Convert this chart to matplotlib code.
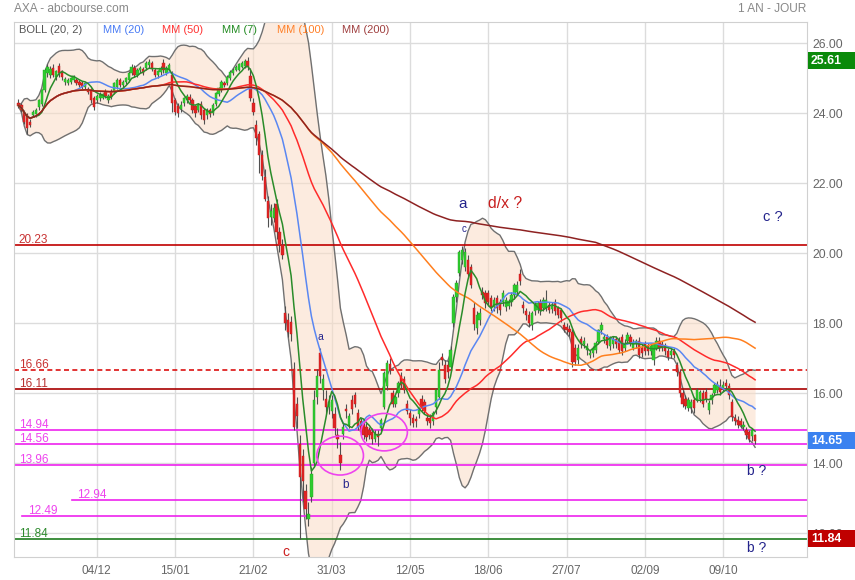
import matplotlib
matplotlib.use('Agg')
import matplotlib.pyplot as plt
from matplotlib.patches import Ellipse, Rectangle
import numpy as np
import pandas as pd

plt.rcParams['font.family'] = ['Liberation Sans', 'DejaVu Sans']

# daily candles, AXA, one year
opens = [
    24.30, 24.23, 24.04, 23.95, 23.76, 23.95, 23.98, 24.19, 24.28, 24.67,
    25.14, 25.10, 25.30, 25.05, 25.35, 25.20, 24.90, 24.86, 24.90, 24.95,
    24.95, 24.90, 24.86, 24.76, 24.70, 24.67, 24.43, 24.38, 24.43, 24.45,
    24.62, 24.38, 24.65, 24.62, 24.76, 24.95, 24.81, 24.90, 24.95, 25.14,
    25.30, 25.10, 25.24, 25.28, 25.30, 25.38, 25.43, 25.24, 25.10, 25.18,
    25.45, 25.14, 25.24, 25.10, 24.38, 24.20, 24.12, 24.30, 24.38, 24.48,
    24.38, 24.20, 24.10, 24.28, 24.09, 23.95, 24.10, 24.00, 24.28, 24.55,
    24.67, 24.88, 24.86, 25.00, 25.14, 25.24, 25.24, 25.33, 25.35, 25.50,
    25.08, 24.30, 23.66, 23.40, 22.80, 22.19, 21.50, 21.05, 21.00, 21.40,
    20.60, 20.25, 18.30, 18.10, 18.05, 16.70, 15.70, 14.55, 14.20, 13.20,
    12.40, 13.05, 14.00, 15.90, 17.15, 16.10, 15.85, 15.60, 15.50, 15.40,
    14.80, 14.25, 14.85, 15.55, 15.10, 15.80, 15.95, 15.43, 15.20, 15.10,
    15.05, 14.95, 14.90, 14.70, 14.85, 15.00, 15.60, 16.20, 16.85, 16.00,
    15.70, 16.00, 16.50, 16.40, 15.70, 15.45, 15.30, 15.28, 15.40, 15.85,
    15.75, 15.30, 15.30, 15.20, 15.60, 15.90, 17.05, 16.80, 16.80, 16.75,
    18.00, 18.76, 19.45, 19.80, 19.60, 19.80, 19.60, 18.45, 17.86, 18.10,
    18.90, 18.86, 18.86, 18.72, 18.48, 18.72, 18.62, 18.62, 18.48, 18.50,
    18.60, 18.80, 18.90, 19.40, 18.53, 18.34, 18.24, 17.96, 18.34, 18.38,
    18.62, 18.43, 18.43, 18.53, 18.40, 18.62, 18.43, 18.38, 17.95, 17.90,
    17.85, 17.75, 17.30, 16.95, 17.55, 17.40, 17.25, 17.10, 17.15, 17.25,
    17.48, 17.80, 17.55, 17.62, 17.34, 17.40, 17.55, 17.53, 17.60, 17.30,
    17.50, 17.60, 17.30, 17.40, 17.50, 17.30, 17.40, 17.35, 17.20, 16.96,
    17.30, 17.50, 17.40, 17.35, 17.20, 17.10, 17.20, 16.80, 16.62, 16.00,
    15.85, 15.57, 15.60, 15.80, 15.81, 15.85, 16.00, 16.05, 15.53, 15.80,
    16.00, 16.10, 16.20, 16.15, 16.30, 16.20, 15.76, 15.30, 15.25, 15.20,
    15.05, 14.96, 14.90, 14.77, 14.80,
]
highs = [
    24.40, 24.30, 24.10, 24.00, 23.85, 24.10, 24.15, 24.42, 24.70, 25.30,
    25.40, 25.35, 25.40, 25.25, 25.45, 25.25, 25.05, 25.00, 25.05, 25.10,
    25.00, 24.95, 24.92, 24.90, 24.75, 24.72, 24.50, 24.55, 24.60, 24.58,
    24.70, 24.55, 24.70, 24.90, 25.00, 25.00, 24.95, 25.05, 25.20, 25.40,
    25.38, 25.30, 25.35, 25.32, 25.50, 25.55, 25.50, 25.30, 25.25, 25.35,
    25.55, 25.35, 25.45, 25.20, 24.45, 24.30, 24.35, 24.48, 24.55, 24.55,
    24.45, 24.25, 24.30, 24.35, 24.15, 24.15, 24.15, 24.30, 24.60, 24.75,
    24.95, 24.92, 25.10, 25.25, 25.30, 25.38, 25.45, 25.50, 25.55, 25.61,
    25.30, 24.45, 23.80, 23.50, 22.95, 22.40, 21.65, 21.40, 21.45, 21.55,
    20.75, 20.40, 18.50, 18.30, 18.20, 16.90, 15.90, 14.80, 14.40, 13.40,
    12.90, 13.90, 16.10, 16.70, 17.30, 16.55, 16.10, 15.95, 15.95, 15.60,
    15.00, 14.60, 15.15, 15.70, 15.45, 15.95, 16.05, 15.55, 15.30, 15.25,
    15.15, 15.05, 15.00, 14.95, 14.95, 15.30, 16.65, 16.95, 17.00, 16.10,
    15.95, 16.35, 16.60, 16.50, 15.80, 15.55, 15.40, 15.35, 15.60, 15.95,
    15.85, 15.45, 15.40, 15.50, 16.15, 16.90, 17.15, 16.95, 16.95, 17.35,
    18.85, 19.25, 20.10, 20.20, 20.15, 19.95, 19.70, 18.60, 18.35, 18.45,
    19.05, 18.95, 18.95, 18.80, 18.75, 18.80, 18.70, 18.95, 18.75, 18.70,
    18.90, 19.15, 19.20, 19.55, 18.65, 18.45, 18.35, 18.35, 18.60, 18.65,
    18.70, 18.75, 18.95, 18.60, 18.60, 18.70, 18.50, 18.45, 18.05, 18.00,
    17.95, 17.85, 17.40, 17.40, 17.65, 17.60, 17.45, 17.25, 17.35, 17.50,
    17.85, 18.05, 17.70, 17.70, 17.65, 17.65, 17.65, 17.60, 17.70, 17.55,
    17.75, 17.70, 17.55, 17.55, 17.60, 17.40, 17.50, 17.45, 17.45, 17.45,
    17.60, 17.60, 17.50, 17.45, 17.30, 17.30, 17.30, 16.90, 16.70, 16.10,
    15.95, 15.90, 15.85, 15.90, 16.15, 16.10, 16.10, 16.15, 15.80, 16.00,
    16.30, 16.35, 16.40, 16.35, 16.40, 16.30, 15.85, 15.40, 15.35, 15.30,
    15.20, 15.05, 14.95, 15.00, 14.85,
]
lows = [
    24.15, 24.05, 23.70, 23.40, 23.60, 23.90, 23.90, 24.10, 24.20, 24.60,
    25.05, 25.00, 25.05, 24.95, 25.05, 24.95, 24.80, 24.80, 24.85, 24.90,
    24.80, 24.75, 24.70, 24.70, 24.55, 24.30, 24.10, 24.30, 24.35, 24.40,
    24.45, 24.30, 24.40, 24.55, 24.70, 24.75, 24.75, 24.85, 24.90, 25.10,
    25.05, 25.05, 25.15, 25.10, 25.25, 25.30, 25.20, 25.05, 25.00, 25.10,
    25.15, 25.10, 25.20, 24.05, 23.95, 23.90, 24.05, 24.20, 24.30, 24.30,
    24.00, 23.90, 24.05, 23.85, 23.70, 23.85, 23.90, 23.95, 24.20, 24.50,
    24.60, 24.75, 24.80, 24.95, 25.10, 25.20, 25.20, 25.30, 25.30, 25.25,
    24.35, 23.95, 23.10, 22.30, 22.10, 21.50, 20.75, 20.80, 20.90, 20.40,
    20.05, 19.85, 17.80, 17.60, 17.50, 14.95, 15.00, 11.84, 12.90, 12.40,
    12.20, 12.90, 13.90, 15.70, 16.30, 15.80, 15.40, 15.40, 15.30, 14.80,
    14.45, 13.80, 14.70, 15.30, 15.00, 15.40, 15.60, 14.95, 14.80, 14.70,
    14.65, 14.70, 14.55, 14.60, 14.50, 14.90, 15.55, 16.10, 16.55, 15.60,
    15.60, 15.90, 16.15, 16.00, 15.40, 15.10, 15.05, 15.05, 15.30, 15.50,
    15.40, 15.10, 15.00, 15.10, 15.40, 15.85, 16.80, 16.30, 16.45, 16.60,
    17.90, 18.60, 19.35, 19.70, 19.50, 19.30, 19.00, 17.80, 17.70, 17.95,
    18.70, 18.45, 18.50, 18.35, 18.35, 18.30, 18.25, 18.50, 18.35, 18.40,
    18.50, 18.70, 18.80, 19.10, 18.30, 18.10, 17.90, 17.80, 18.25, 18.30,
    18.25, 18.35, 18.35, 18.30, 18.30, 18.25, 18.15, 18.05, 17.75, 17.70,
    17.65, 16.75, 16.80, 16.85, 17.30, 17.30, 17.10, 17.00, 17.05, 17.15,
    17.40, 17.70, 17.45, 17.30, 17.25, 17.30, 17.30, 17.15, 17.10, 17.20,
    17.40, 17.35, 17.25, 17.30, 17.00, 17.05, 17.10, 17.10, 17.10, 16.80,
    17.25, 17.20, 17.20, 17.10, 16.95, 17.00, 17.00, 16.50, 15.90, 15.60,
    15.55, 15.50, 15.45, 15.45, 15.75, 15.75, 15.60, 15.75, 15.40, 15.70,
    15.95, 16.00, 15.95, 16.05, 16.10, 15.85, 15.20, 15.10, 15.00, 15.00,
    14.95, 14.70, 14.60, 14.65, 14.55,
]
closes = [
    24.22, 24.09, 23.76, 23.57, 23.66, 24.04, 24.10, 24.38, 24.67, 25.24,
    25.33, 25.28, 25.10, 25.20, 25.15, 25.05, 24.98, 24.95, 25.00, 25.05,
    24.86, 24.81, 24.76, 24.86, 24.62, 24.38, 24.19, 24.50, 24.52, 24.55,
    24.50, 24.50, 24.48, 24.86, 24.95, 24.81, 24.90, 25.00, 25.14, 25.33,
    25.10, 25.24, 25.30, 25.14, 25.43, 25.48, 25.26, 25.10, 25.20, 25.30,
    25.24, 25.30, 25.38, 24.30, 24.04, 24.00, 24.25, 24.43, 24.50, 24.38,
    24.09, 24.00, 24.25, 23.95, 23.80, 24.09, 23.98, 24.25, 24.57, 24.71,
    24.90, 24.80, 25.05, 25.19, 25.24, 25.33, 25.40, 25.45, 25.50, 25.33,
    24.45, 24.05, 23.29, 22.82, 22.20, 21.56, 21.00, 21.20, 21.30, 20.60,
    20.25, 19.95, 18.00, 17.75, 17.70, 15.05, 15.35, 13.60, 13.50, 12.70,
    12.55, 13.70, 15.80, 16.50, 16.50, 16.40, 15.60, 15.75, 15.80, 15.00,
    14.70, 14.00, 15.05, 15.50, 15.35, 15.55, 15.70, 15.05, 14.90, 14.80,
    14.75, 14.80, 14.70, 14.85, 14.75, 15.25, 16.57, 16.86, 16.67, 15.70,
    15.90, 16.30, 16.25, 16.10, 15.50, 15.30, 15.15, 15.20, 15.55, 15.60,
    15.50, 15.20, 15.15, 15.45, 16.10, 16.67, 16.95, 16.40, 16.60, 17.25,
    18.76, 19.15, 20.05, 20.10, 20.05, 19.40, 19.10, 17.97, 18.25, 18.30,
    18.80, 18.57, 18.62, 18.48, 18.67, 18.43, 18.38, 18.86, 18.67, 18.65,
    18.80, 19.10, 19.10, 19.20, 18.43, 18.24, 18.00, 18.29, 18.53, 18.57,
    18.38, 18.67, 18.67, 18.38, 18.50, 18.34, 18.24, 18.15, 17.85, 17.80,
    17.75, 16.90, 16.90, 17.30, 17.40, 17.50, 17.35, 17.15, 17.30, 17.45,
    17.80, 17.95, 17.62, 17.38, 17.58, 17.55, 17.40, 17.24, 17.20, 17.45,
    17.67, 17.45, 17.45, 17.50, 17.10, 17.15, 17.20, 17.20, 17.35, 17.40,
    17.50, 17.30, 17.30, 17.20, 17.05, 17.20, 17.10, 16.60, 16.00, 15.70,
    15.65, 15.80, 15.75, 15.57, 16.10, 16.05, 15.70, 15.85, 15.72, 15.95,
    16.24, 16.24, 16.05, 16.25, 16.20, 15.95, 15.33, 15.20, 15.10, 15.10,
    15.10, 14.80, 14.70, 14.96, 14.65,
]

tick_bars = [27, 54, 81, 108, 135, 162, 189, 216, 243]
tick_labels = ['04/12', '15/01', '21/02', '31/03', '12/05', '18/06', '27/07', '02/09', '09/10']

ma_periods = [20, 50, 100, 7, 200]
ma_colors = ['#5a87f2', '#ff2b2b', '#ff7f1e', '#2a8c2a', '#8e2222']

levels = [20.23, 16.66, 16.11, 14.94, 14.56, 13.96, 12.94, 12.49, 11.84]
level_colors = ['#c00000', '#dd1111', '#a80000', '#ee22ee', '#ee22ee',
                '#ee22ee', '#ee22ee', '#ee22ee', '#1e7b1e']
label_colors = ['#c83232', '#c83232', '#b83030', '#ee44ee', '#ee44ee',
                '#ee44ee', '#ee44ee', '#ee44ee', '#2e8b2e']
level_start = [0, 0, 0, 0, 0, 0, 0.0731, 0.0101, 0]
label_x = [0.006, 0.006, 0.006, 0.006, 0.006, 0.006, 0.0795, 0.0177, 0.006]

last_close = 14.65
year_high = 25.61
year_low = 11.84

o = np.array(opens)
h = np.array(highs)
l = np.array(lows)
c = np.array(closes)
n = len(c)
x = np.arange(n)

s = pd.Series(c)
bb_mid = s.rolling(20, min_periods=1).mean()
bb_std = s.rolling(20, min_periods=1).std(ddof=0).fillna(0)
bb_up = bb_mid + 2 * bb_std
bb_lo = bb_mid - 2 * bb_std

W, H = 855, 580
fig = plt.figure(figsize=(W / 100, H / 100), dpi=100)
ax = fig.add_axes([14 / W, 1 - 557 / H, 793 / W, 535 / H])
ax.set_xlim(-1.55, 271.9)
ax.set_ylim(11.323, 26.609)

# grid
ax.set_xticks(tick_bars)
ax.set_xticklabels(tick_labels)
ax.set_yticks(np.arange(12, 27, 2))
ax.set_yticklabels([f'{v:.2f}' for v in np.arange(12, 27, 2)])
ax.yaxis.tick_right()
ax.grid(True, color='#dcdcdc', lw=1)
ax.set_axisbelow(True)
ax.tick_params(axis='x', length=0, pad=6, colors='#666666', labelsize=8.5)
ax.tick_params(axis='y', length=0, pad=4, colors='#666666', labelsize=8.8)
for sp in ax.spines.values():
    sp.set_color('#d0d0d0')

# bollinger
ax.fill_between(x, bb_lo, bb_up, color='#fbdcc6', alpha=0.55, lw=0, zorder=1)
ax.plot(x, bb_up, color='#707070', lw=1, zorder=2)
ax.plot(x, bb_lo, color='#707070', lw=1, zorder=2)

# horizontal levels
for lv, col, lcol, x0, lx in zip(levels, level_colors, label_colors, level_start, label_x):
    ls = (0, (3, 2)) if lv == 16.66 else '-'
    ax.axhline(lv, xmin=x0, xmax=1, color=col, lw=1.2, ls=ls, zorder=2.5)
    ax.annotate(f'{lv:.2f}', xy=(lx, lv), xycoords=ax.get_yaxis_transform(),
                xytext=(0, 1.5), textcoords='offset points',
                color=lcol, fontsize=8.5, va='baseline', ha='left', zorder=7)

# candles
up = c >= o
body_col = np.where(up, '#2fcc2f', '#e02424')
edge_col = np.where(up, '#22a822', '#c01c1c')
ax.vlines(x, l, h, color='#505050', lw=0.8, zorder=4)
ax.bar(x, np.maximum(np.abs(c - o), 0.05), bottom=np.minimum(o, c), width=0.82,
       color=body_col, edgecolor=edge_col, lw=0.3, zorder=5)

# moving averages
for p, col in zip(ma_periods, ma_colors):
    ma = s.rolling(p, min_periods=1).mean()
    ax.plot(x, ma, color=col, lw=1.1, zorder=6)

# wave annotations
navy = '#24248c'
ax.text(153.3, 21.41, 'a', color=navy, fontsize=11, ha='center', va='center', zorder=8)
ax.text(167.8, 21.41, 'd/x ?', color='#c81e1e', fontsize=11.3, ha='center', va='center', zorder=8)
ax.text(260.2, 21.04, 'c ?', color=navy, fontsize=10.5, ha='center', va='center', zorder=8)
ax.text(153.6, 20.69, 'c', color=navy, fontsize=7, ha='center', va='center', zorder=8)
ax.text(104.0, 17.62, 'a', color=navy, fontsize=7.5, ha='center', va='center', zorder=8)
ax.text(112.9, 13.38, 'b', color=navy, fontsize=8.5, ha='center', va='center', zorder=8)
ax.text(254.6, 13.78, 'b ?', color=navy, fontsize=10, ha='center', va='center', zorder=8)
ax.text(254.6, 11.58, 'b ?', color=navy, fontsize=10, ha='center', va='center', zorder=8)
ax.text(92.2, 11.47, 'c', color='#cc2020', fontsize=10, ha='center', va='center', zorder=8)

ax.add_patch(Ellipse((110.9, 14.22), 16.1, 1.11, fill=False, edgecolor='#ee44ee', lw=1.2, zorder=7))
ax.add_patch(Ellipse((126.1, 14.89), 16.0, 1.07, fill=False, edgecolor='#ee44ee', lw=1.2, zorder=7))

# legend row
legend_items = [('BOLL (20, 2)', '#555555', 19), ('MM (20)', '#4a7cf5', 103),
                ('MM (50)', '#ff3333', 162), ('MM (7)', '#228b22', 222),
                ('MM (100)', '#ff7f27', 277), ('MM (200)', '#a04040', 342)]
for txt, col, px in legend_items:
    fig.text(px / W, 1 - 30 / H, txt, color=col, fontsize=8, va='center', ha='left')

fig.text(14 / W, 1 - 9 / H, 'AXA - abcbourse.com', color='#888888', fontsize=8.6, va='center')
fig.text(806 / W, 1 - 9 / H, '1 AN - JOUR', color='#888888', fontsize=8.6, va='center', ha='right')


# value boxes on the right axis
def fig_y(v):
    return ax.transData.transform((0, v))[1] / fig.bbox.height


for val, col, shift in [(year_high, '#0a8a0a', -3.7), (last_close, '#3b82f0', 0), (year_low, '#c00000', 0)]:
    fy = fig_y(val) + shift / H
    fig.add_artist(Rectangle((808 / W, fy - 8.5 / H), 47 / W, 17 / H,
                             transform=fig.transFigure, facecolor=col, edgecolor='none', zorder=10))
    fig.text(811 / W, fy, f'{val:.2f}', color='white', fontsize=8.8, fontweight='bold',
             va='center', ha='left', zorder=11)

fig.savefig('out.png', dpi=100)
